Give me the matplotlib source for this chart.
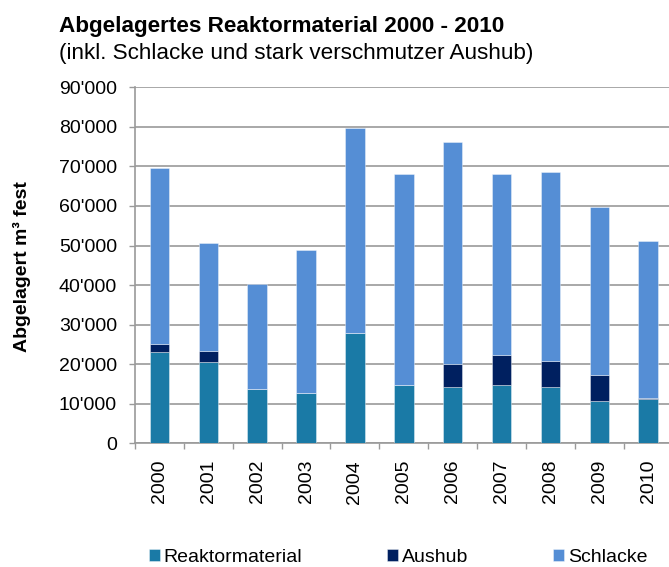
import matplotlib
matplotlib.use("Agg")
import matplotlib.pyplot as plt
from matplotlib.ticker import FuncFormatter, FixedLocator
import numpy as np

plt.rcParams['font.family'] = ['Liberation Sans', 'DejaVu Sans']

years = ['2000', '2001', '2002', '2003', '2004', '2005', '2006', '2007', '2008', '2009', '2010']
reaktor = [23100, 20600, 13700, 12600, 28000, 14800, 14200, 14800, 14200, 10600, 11200]
aushub = [2100, 2800, 0, 0, 0, 0, 5900, 7400, 6600, 6700, 300]
schlacke = [44400, 27200, 26600, 36200, 51600, 53300, 56000, 45900, 47700, 42500, 39700]
series_names = ['Reaktormaterial', 'Aushub', 'Schlacke']
colors = ['#1a7aa6', '#002060', '#558ed5']
yticks = [0, 10000, 20000, 30000, 40000, 50000, 60000, 70000, 80000, 90000]

fig = plt.figure(figsize=(6.69, 5.67), dpi=100)
ax = fig.add_axes([135/669, 1-443.3/567, (672.6-135)/669, (443.3-87.3)/567])

x = np.arange(len(years))
bottom = np.zeros(len(years))
handles = []
for vals, name, col in zip([reaktor, aushub, schlacke], series_names, colors):
    b = ax.bar(x, vals, width=0.4, bottom=bottom, color=col, label=name,
               edgecolor=(1, 1, 1, 0.45), linewidth=0.6, zorder=3)
    handles.append(b)
    bottom += np.array(vals)

ax.set_xlim(-0.5, len(years) - 0.5)
ax.set_ylim(0, 90000)
ax.set_yticks(yticks)
ax.yaxis.set_major_formatter(FuncFormatter(lambda v, p: f"{int(v):,}".replace(",", "'")))
ax.grid(axis='y', color='#9a9a9a', linewidth=1.2, zorder=0)
ax.set_axisbelow(True)

ax.set_xticks(x)
ax.set_xticklabels(years, rotation=90)
ax.xaxis.set_minor_locator(FixedLocator(np.arange(-0.5, len(years), 1.0)))
ax.tick_params(axis='x', which='major', length=0, pad=12, labelsize=14)
ax.tick_params(axis='x', which='minor', length=4, width=1, color='#9a9a9a')
ax.tick_params(axis='y', length=4, width=1, color='#9a9a9a', pad=9, labelsize=14)

for s in ['top', 'right']:
    ax.spines[s].set_visible(False)
for s in ['left', 'bottom']:
    ax.spines[s].set_color('#9a9a9a')
    ax.spines[s].set_linewidth(1.2)

fig.text(21.7/669, 1-267/567, 'Abgelagert m³ fest', rotation=90, ha='center', va='center',
         fontsize=14, fontweight='bold')
fig.text(59/669, 1-32/567, 'Abgelagertes Reaktormaterial 2000 - 2010', ha='left', va='baseline',
         fontsize=16.2, fontweight='bold')
fig.text(59/669, 1-59/567, '(inkl. Schlacke und stark verschmutzer Aushub)', ha='left', va='baseline',
         fontsize=16.2)

fig.legend(handles=handles, labels=series_names, loc='center', bbox_to_anchor=(398/669, 1-557/567),
           ncol=3, frameon=False, fontsize=14, handlelength=0.57, handleheight=0.57,
           handletextpad=0.2, columnspacing=4.35, borderpad=0, borderaxespad=0)

fig.savefig('out.png', dpi=100)
